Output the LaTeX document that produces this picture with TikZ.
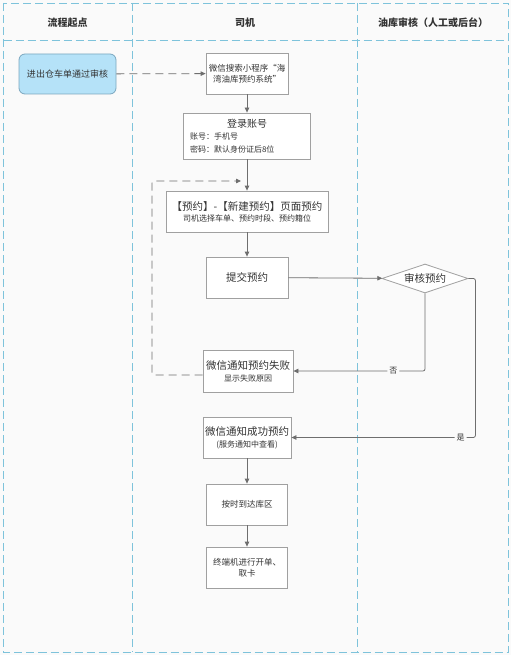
\documentclass[tikz,border=0pt]{standalone}
\usepackage{fontspec}
\setmainfont{Noto Sans CJK SC}
\usetikzlibrary{arrows.meta,shapes.geometric}
\definecolor{bgc}{HTML}{FAFAFA}
\definecolor{lanec}{HTML}{7EC3DB}
\definecolor{boxc}{HTML}{A0A0A0}
\definecolor{linec}{HTML}{6E6E6E}
\definecolor{startfill}{HTML}{B5E2F8}
\definecolor{startdraw}{HTML}{7BA7BF}
\definecolor{txtc}{HTML}{333333}
\newcommand{\fsz}[2]{\fontsize{#1}{#2}\selectfont}
\tikzset{
  lane/.style={draw=lanec, line width=0.8pt, dash pattern=on 8pt off 4pt},
  hdr/.style={font=\fsz{10}{12}\bfseries, text=txtc},
  pbox/.style={draw=boxc, fill=white, line width=0.8pt, inner sep=2pt, align=center, text=txtc},
  startbox/.style={draw=startdraw, fill=startfill, line width=0.8pt, rounded corners=6pt, align=center, text=txtc, font=\fsz{9}{11}},
  conn/.style={draw=linec, line width=0.8pt, -{Triangle[length=5pt,width=4.5pt]}},
  dconn/.style={conn, dash pattern=on 8pt off 5pt},
  lbl/.style={fill=bgc, inner sep=2pt, font=\fsz{8}{10}, text=txtc}
}
\begin{document}
\begin{tikzpicture}[x=1pt,y=-1pt]
\useasboundingbox (0,0) rectangle (511,655);
\fill[bgc] (0,0) rectangle (511,655);
% swimlanes
\draw[lane] (3.5,3) rectangle (508,652);
\draw[lane] (3.5,40) -- (508,40);
\draw[lane] (132.5,3) -- (132.5,652);
\draw[lane] (357,3) -- (357,652);
\node[hdr] (h1) at (67.5,23) {流程起点};
\node[hdr] (h2) at (245,23) {司机};
\node[hdr] (h3) at (433,23) {油库审核（人工或后台）};
% nodes
\node[startbox, minimum width=97pt, minimum height=40pt] (start) at (67.5,74) {进出仓车单通过审核};
\node[pbox, minimum width=82pt, minimum height=41pt, font=\fsz{8.5}{11}] (b1) at (247,73.5) {微信搜索小程序“海\\湾油库预约系统”};
\node[pbox, minimum width=127pt, minimum height=46pt, text width=114pt, align=left, font=\fsz{8}{12.5}] (b2) at (247,136)
  {\makebox[\linewidth]{\fsz{10}{12.5}登录账号}\\账号：手机号\\密码：默认身份证后8位};
\node[pbox, minimum width=162pt, minimum height=41pt, font=\fsz{8}{11}] (b3) at (247,211.5)
  {{\fsz{10.5}{11}【预约】-【新建预约】页面预约}\\{\fsz{8}{11}司机选择车单、预约时段、预约籍位}};
\node[pbox, minimum width=82pt, minimum height=41pt, font=\fsz{10.5}{12}] (b4) at (247,277.5) {提交预约};
\node[draw=boxc, fill=white, line width=0.8pt, diamond, aspect=2.97, inner sep=0pt, minimum width=86pt, minimum height=29pt, font=\fsz{10.5}{12}, text=txtc] (dia) at (425,278.5) {审核预约};
\node[pbox, minimum width=90pt, minimum height=42pt, font=\fsz{8}{12}] (b5) at (248,371)
  {{\fsz{10.5}{12}微信通知预约失败}\\{\fsz{8}{12}显示失败原因}};
\node[pbox, minimum width=88pt, minimum height=41pt, font=\fsz{8}{12}] (b6) at (247,437.5)
  {{\fsz{10.5}{12}微信通知成功预约}\\{\fsz{8}{12}(服务通知中查看)}};
\node[pbox, minimum width=81pt, minimum height=41pt, font=\fsz{8.5}{11}] (b7) at (247,504.5) {按时到达库区};
\node[pbox, minimum width=81pt, minimum height=41pt, font=\fsz{8.5}{11}] (b8) at (247,567.5) {终端机进行开单、\\取卡};
% helper coordinates for the dashed return
\coordinate (rc) at (152,181);
\coordinate (rt) at (241,181);
% connectors
\draw[dconn] (start) -- (b1);
\draw[conn] (b1) -- (b2);
\draw[conn] (b2) -- (b3);
\draw[conn] (b3) -- (b4);
\draw[conn] (b4) -- (dia);
\draw[conn, rounded corners=2pt] (dia.south) |- node[lbl, pos=0.62] {否} (b5.east);
\draw[conn, rounded corners=2pt] (dia.east) -- ++(7,0) |- node[lbl, pos=0.54] {是} (b6.east);
\draw[dconn, rounded corners=2pt] ([yshift=-4pt]b5.west) -| (rc) -- (rt);
\draw[conn] (b6) -- (b7);
\draw[conn] (b7) -- (b8);
\end{tikzpicture}
\end{document}
